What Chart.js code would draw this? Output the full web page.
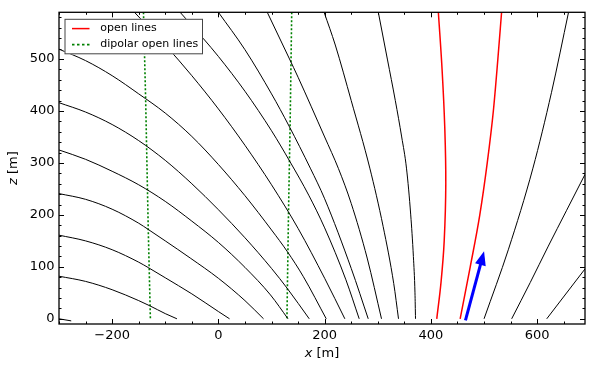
<!DOCTYPE html>
<html><head><meta charset="utf-8">
<script src="https://cdn.jsdelivr.net/npm/chart.js@4.4.1/dist/chart.umd.min.js"></script>
<style>html,body{margin:0;padding:0;background:#fff}</style>
</head><body>
<canvas id="c" width="591" height="365" style="width:591px;height:365px;display:block"></canvas>
<script>
// ---- axes ----
const xRange = [-300, 690];
const zRange = [-10, 590];
const xTicks = [-200, 0, 200, 400, 600];
const zTicks = [0, 100, 200, 300, 400, 500];
const xMinorStep = 50, zMinorStep = 20;

// ---- black field lines [x, z] ----
const lineA = [[-300,0],[-277,-4]];
const lineB = [[-300,82],[-250,72],[-200,56],[-150,35],[-129,25],[-100,10],[-78,0]];
const lineC = [[-300,161],[-250,150],[-200,133],[-150,109],[-131,98],[-100,79],[-50,48],[0,14],[21,0]];
const lineD = [[-300,241],[-250,230],[-200,211],[-150,184],[-132,172],[-100,150],[-53,117],[0,78],[50,35],[85,0]];
const lineE = [[-300,325],[-250,307],[-200,284],[-150,258],[-100,226],[-50,188],[0,147],[50,99],[98,46],[131,0]];
const lineF = [[-300,416],[-250,398],[-200,374],[-150,343],[-100,305],[-50,260],[0,210],[50,156],[100,97],[130,58],[171,0]];
const lineG = [[-300,519],[-250,497],[-200,468],[-150,433],[-100,396],[-50,351],[0,297],[50,237],[100,171],[130,129],[160,81],[203,0]];
const lineX = [[-158,590],[-100,527],[-50,468],[0,404],[50,334],[100,258],[150,174],[200,78],[238,0]];
const lineH = [[-72,590],[-28,539],[0,505],[50,438],[100,362],[135,302],[170,238],[200,175],[240,75],[265,0]];
const lineI = [[0,590],[50,518],[100,433],[133,371],[173,290],[200,231],[250,97],[282,0]];
const lineJ = [[92,590],[133,502],[150,465],[200,350],[226,289],[250,222],[280,117],[307,0]];
const lineK = [[199,590],[220,527],[250,420],[285,290],[310,178],[330,68],[339,0]];
const lineL = [[301,590],[318,500],[333,420],[345,350],[354,290],[362,200],[367,120],[370,50],[371,0]];
const lineN = [[659,590],[627,436],[592,290],[546,134],[500,0]];
const lineO = [[690,278],[655,208],[621,140],[587,70],[552,0]];
const lineP = [[690,96],[618,0]];
const blackLines = [lineA,lineB,lineC,lineD,lineE,lineF,lineG,lineX,lineH,lineI,lineJ,lineK,lineL,lineN,lineO,lineP];

// ---- open lines (red) ----
const openLine1 = [[414,590],[421,480],[426,370],[428,260],[425,150],[419,70],[411,0]];
const openLine2 = [[533,590],[526,500],[517.5,400],[506,300],[492,200],[474,100],[455,0]];

// ---- dipolar open lines (green) ----
const dipolarLine1 = [[-141,590],[-137,426],[-132,172],[-128,0]];
const dipolarLine2 = [[138,590],[135,373],[132,208],[129,0]];

// ---- arrow ----
const arrowTail = [465,-3];
const arrowTip = [500,130];

const legendLabels = ['open lines', 'dipolar open lines'];

const toXY = a => a.map(p => ({x:p[0], y:p[1]}));
const fmt = v => v < 0 ? '\u2212' + Math.abs(v) : String(v);
const FONT = 'DejaVu Sans';

const datasets = [];
blackLines.forEach(l => datasets.push({data: toXY(l), borderColor:'#000', borderWidth:1, cubicInterpolationMode:'monotone'}));
[dipolarLine1, dipolarLine2].forEach(l => datasets.push({data: toXY(l), borderColor:'#008000', borderWidth:1.6, borderDash:[2,2], tension:0}));
datasets.push({data: toXY(openLine1), borderColor:'#ff0000', borderWidth:1.5, tension:0.4});
datasets.push({data: toXY(openLine2), borderColor:'#ff0000', borderWidth:1.5, cubicInterpolationMode:'monotone'});

const overlay = {
  id:'overlay',
  afterDatasetsDraw(chart){
    const {ctx, chartArea:ca, scales:{x, y}} = chart;
    // arrow
    const x0 = x.getPixelForValue(arrowTail[0]), y0 = y.getPixelForValue(arrowTail[1]);
    const x1 = x.getPixelForValue(arrowTip[0]), y1 = y.getPixelForValue(arrowTip[1]);
    const ang = Math.atan2(y1-y0, x1-x0), hl = 14, hw = 5.5;
    const bx = x1 - hl*Math.cos(ang), by = y1 - hl*Math.sin(ang);
    ctx.save();
    ctx.beginPath(); ctx.rect(ca.left, ca.top, ca.right-ca.left, ca.bottom-ca.top); ctx.clip();
    ctx.strokeStyle = '#0000ff'; ctx.fillStyle = '#0000ff'; ctx.lineWidth = 3;
    ctx.beginPath(); ctx.moveTo(x0, y0); ctx.lineTo(bx + 2*Math.cos(ang), by + 2*Math.sin(ang)); ctx.stroke();
    ctx.beginPath(); ctx.moveTo(x1, y1);
    ctx.lineTo(bx - hw*Math.sin(ang), by + hw*Math.cos(ang));
    ctx.lineTo(bx + hw*Math.sin(ang), by - hw*Math.cos(ang));
    ctx.closePath(); ctx.fill();
    ctx.restore();
    // legend box
    ctx.save();
    const lx = ca.left + 5.5, ly = ca.top + 6.5, lw = 138.5, lh = 35.5;
    ctx.fillStyle = '#fff'; ctx.fillRect(lx, ly, lw, lh);
    ctx.strokeStyle = '#444'; ctx.lineWidth = 1; ctx.strokeRect(lx+0.5, ly+0.5, lw-1, lh-1);
    ctx.font = '11px "' + FONT + '"'; ctx.fillStyle = '#000'; ctx.textBaseline = 'middle';
    const rows = [ly + 9.8, ly + 25.8];
    ctx.strokeStyle = '#ff0000'; ctx.lineWidth = 1.5;
    ctx.beginPath(); ctx.moveTo(lx+7.5, rows[0]); ctx.lineTo(lx+25, rows[0]); ctx.stroke();
    ctx.strokeStyle = '#008000'; ctx.lineWidth = 1.6; ctx.setLineDash([2.5,2.5]);
    ctx.beginPath(); ctx.moveTo(lx+7.5, rows[1]); ctx.lineTo(lx+25, rows[1]); ctx.stroke();
    ctx.setLineDash([]);
    ctx.fillText(legendLabels[0], lx + 35.7, rows[0]);
    ctx.fillText(legendLabels[1], lx + 35.7, rows[1]);
    ctx.restore();
  },
  afterDraw(chart){
    const {ctx, chartArea:ca, scales:{x, y}} = chart;
    ctx.save();
    ctx.strokeStyle = '#000'; ctx.lineWidth = 1;
    const tick = (px, py, dx, dy) => { ctx.beginPath(); ctx.moveTo(px, py); ctx.lineTo(px+dx, py+dy); ctx.stroke(); };
    for (let v = Math.ceil(xRange[0]/xMinorStep)*xMinorStep; v <= xRange[1]; v += xMinorStep) {
      const px = Math.round(x.getPixelForValue(v)) + 0.5;
      const len = xTicks.includes(v) ? 5 : 2.5;
      tick(px, ca.bottom, 0, -len); tick(px, ca.top, 0, len);
    }
    for (let v = Math.ceil(zRange[0]/zMinorStep)*zMinorStep; v <= zRange[1]; v += zMinorStep) {
      const py = Math.round(y.getPixelForValue(v)) + 0.5;
      const len = zTicks.includes(v) ? 5 : 2.5;
      tick(ca.left, py, len, 0); tick(ca.right, py, -len, 0);
    }
    ctx.lineWidth = 1.3;
    ctx.strokeRect(ca.left, ca.top, ca.right-ca.left, ca.bottom-ca.top);
    // axis titles
    ctx.fillStyle = '#000'; ctx.textBaseline = 'middle';
    const drawTitle = (cx, cy, rot) => {
      ctx.save(); ctx.translate(cx, cy); ctx.rotate(rot);
      ctx.font = 'italic 13px "' + FONT + '"'; const w1 = ctx.measureText(rot ? 'z' : 'x').width;
      ctx.font = '13px "' + FONT + '"'; const w2 = ctx.measureText(' [m]').width;
      let sx = -(w1 + w2)/2;
      ctx.font = 'italic 13px "' + FONT + '"'; ctx.textAlign = 'left';
      ctx.fillText(rot ? 'z' : 'x', sx, 0);
      ctx.font = '13px "' + FONT + '"'; ctx.fillText(' [m]', sx + w1, 0);
      ctx.restore();
    };
    drawTitle((ca.left + ca.right)/2, 354, 0);
    drawTitle(14, (ca.top + ca.bottom)/2, -Math.PI/2);
    ctx.restore();
  }
};

new Chart(document.getElementById('c'), {
  type: 'scatter',
  data: { datasets },
  options: {
    responsive: false, animation: false, devicePixelRatio: 1,
    layout: { padding: { left: 0, right: 6, top: 6, bottom: 0 } },
    elements: { point: { radius: 0, hoverRadius: 0 }, line: { fill: false } },
    datasets: { scatter: { showLine: true, pointRadius: 0 } },
    plugins: { legend: { display: false }, tooltip: { enabled: false } },
    scales: {
      x: {
        type: 'linear', min: xRange[0], max: xRange[1],
        afterBuildTicks: s => { s.ticks = xTicks.map(v => ({value: v})); },
        afterFit: s => { s.height = 41; },
        grid: { display: false, drawTicks: false }, border: { display: false },
        ticks: { callback: v => fmt(v), font: { family: FONT, size: 13 }, color: '#000', padding: 4, maxRotation: 0, autoSkip: false }
      },
      y: {
        type: 'linear', min: zRange[0], max: zRange[1],
        afterBuildTicks: s => { s.ticks = zTicks.map(v => ({value: v})); },
        afterFit: s => { s.width = 59; },
        grid: { display: false, drawTicks: false }, border: { display: false },
        ticks: { callback: v => fmt(v), font: { family: FONT, size: 13 }, color: '#000', padding: 4.5, autoSkip: false }
      }
    }
  },
  plugins: [overlay]
});
</script>
</body></html>
